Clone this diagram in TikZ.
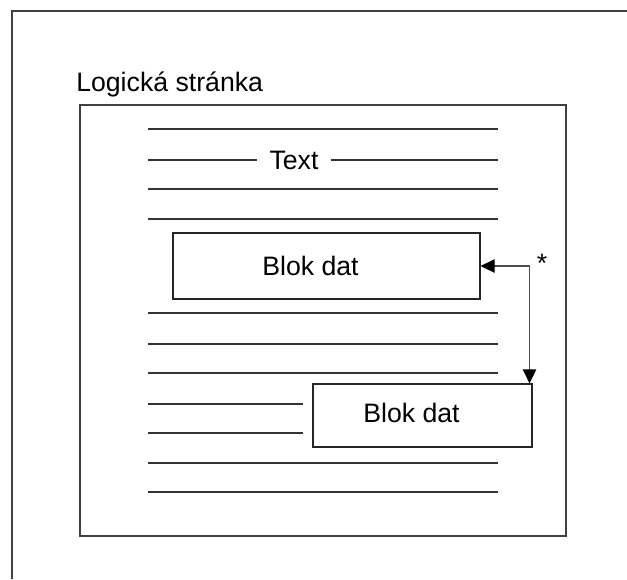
\documentclass[tikz,border=0pt]{standalone}
\usepackage{fontspec}
\setmainfont{Liberation Sans}
\usetikzlibrary{positioning}
\usetikzlibrary{arrows.meta}
\tikzset{
every node/.style={font=\fontsize{20pt}{24pt}\selectfont},
frame/.style={draw=black!75, line width=0.8pt},
textline/.style={draw=black!80, line width=0.8pt},
datablock/.style={ % Sets the properties for each block
draw=black!85, line width=0.8pt,
rectangle, inner sep=0pt},
link/.style={ % Sets the properties for the pointer
draw=black!70, line width=0.8pt,
{Triangle[length=10.5pt,width=10pt,color=black]}-{Triangle[length=10.5pt,width=10pt,color=black]}}}

\begin{document}
\begin{tikzpicture}[x=0.75pt, y=-0.75pt]
	\useasboundingbox (0,0) rectangle (627,579);
	\draw[frame] (627,11) -- (12,11) -- (12,579);
	\draw[frame] (80,105) rectangle (566,536);
	\node[anchor=base west, inner sep=0pt] (title) at (76,91) {Logická stránka};
	\foreach \y in {129,189,219,313,344,373,463,492}
		\draw[textline] (148,\y) -- (498,\y);
	\foreach \y in {404,433}
		\draw[textline] (148,\y) -- (303,\y);
	\node[inner xsep=9pt] (text) at (294,160) {Text};
	\draw[textline] (148,160) -- (text.west);
	\draw[textline] (text.east) -- (498,160);
	\node[datablock, minimum width=230.25pt, minimum height=49.5pt,
		label={[xshift=-12pt]center:Blok dat}] (block1) at (326.5,266) {};
	\node[datablock, minimum width=164.25pt, minimum height=47.25pt,
		label={[xshift=-8.25pt, yshift=2pt]center:Blok dat}] (block2) at (422.5,415.5) {};
	\draw[link] (block1.east) -| ([xshift=-2.25pt]block2.north east);
	\node (star) at (542,263) {*};
\end{tikzpicture}
\end{document}
